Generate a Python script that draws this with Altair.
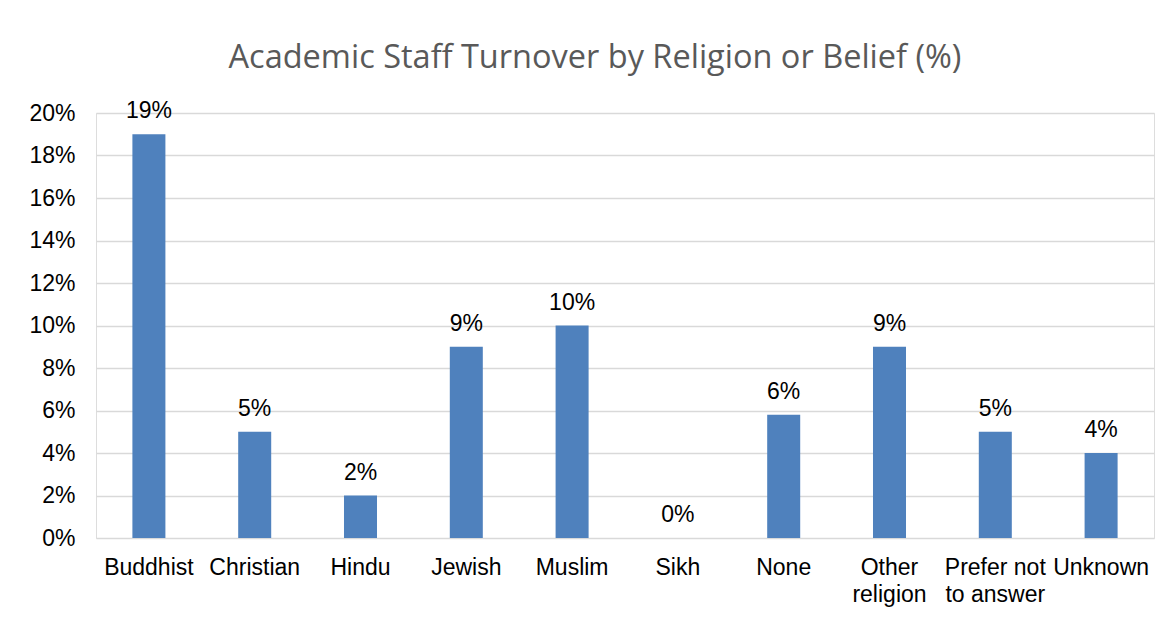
import altair as alt
import pandas as pd

categories = ["Buddhist", "Christian", "Hindu", "Jewish", "Muslim", "Sikh",
              "None", "Other\nreligion", "Prefer not\nto answer", "Unknown"]
turnover = [19, 5, 2, 9, 10, 0, 5.8, 9, 5, 4]
y_ticks = [0, 2, 4, 6, 8, 10, 12, 14, 16, 18, 20]

df = pd.DataFrame({"cat": categories, "val": turnover})

FONT = "Liberation Sans"

x_enc = alt.X("cat:N", sort=categories, title=None,
              scale=alt.Scale(paddingInner=0.688, paddingOuter=0.344),
              axis=alt.Axis(labelAngle=0, labelFont=FONT, labelFontSize=23,
                            labelColor="#000000", labelPadding=18,
                            labelLineHeight=27,
                            labelExpr="split(datum.value, '\\n')",
                            ticks=False, domain=False, grid=False))
y_enc = alt.Y("val:Q", title=None,
              scale=alt.Scale(domain=[0, 20], nice=False),
              axis=alt.Axis(values=y_ticks, labelExpr="datum.value + '%'",
                            labelFont=FONT, labelFontSize=23, labelColor="#000000",
                            labelPadding=21, ticks=False, domain=False,
                            gridColor="#D9D9D9", gridWidth=1.5))

base = alt.Chart(df).encode(x=x_enc, y=y_enc)

bars = base.mark_bar(color="#4F81BD")
labels = base.mark_text(baseline="bottom", dy=-11, font=FONT, fontSize=23,
                        color="#000000").transform_calculate(
    lbl="format(datum.val, '.0f') + '%'").encode(text="lbl:N")

chart = (bars + labels).properties(
    width=1058, height=425,
    title=alt.TitleParams("Academic Staff Turnover by Religion or Belief (%)",
                          font="Open Sans", fontSize=32.5, fontWeight="normal",
                          color="#595959", anchor="middle", dx=-30, offset=26),
    autosize=alt.AutoSizeParams(type="none"),
    padding={"left": 88, "top": 105, "right": 10, "bottom": 75},
).configure_view(stroke=None).configure(background="#FFFFFF")

chart.save("out.html", embed_options={"renderer": "svg", "actions": False})
